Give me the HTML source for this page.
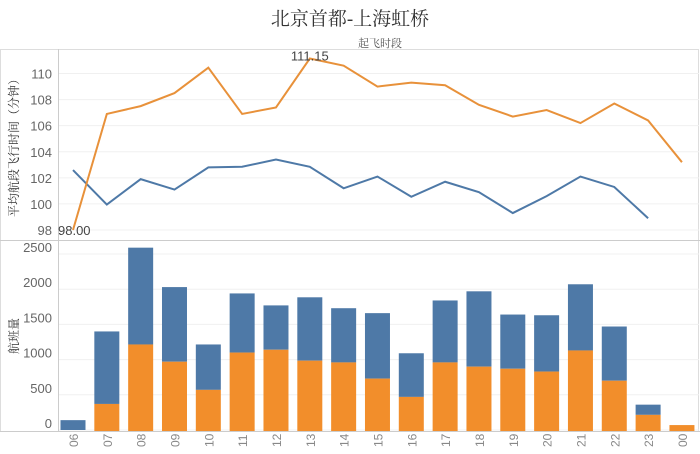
<!DOCTYPE html>
<html><head><meta charset="utf-8">
<style>
body{margin:0;background:#fff;width:700px;height:449px;overflow:hidden;font-family:"Liberation Sans","Noto Sans CJK SC",sans-serif;}
svg text{font-family:"Liberation Sans","Noto Sans CJK SC",sans-serif;}
svg text.serif{font-family:"Liberation Serif","Noto Serif CJK SC",serif;}
</style></head>
<body>
<svg id="chart" width="700" height="449" xmlns="http://www.w3.org/2000/svg">
<text class="serif" x="350" y="25" text-anchor="middle" font-size="19" fill="#333">北京首都-上海虹桥</text>
<text class="serif" x="380" y="47" text-anchor="middle" font-size="11" fill="#555">起飞时段</text>
<rect x="0.5" y="49.5" width="698" height="382" fill="none" stroke="#ddd"/>
<line x1="0" y1="240.5" x2="700" y2="240.5" stroke="#ccc"/>
<line x1="58.5" y1="49" x2="58.5" y2="432" stroke="#ccc"/>
<line x1="0" y1="431.5" x2="700" y2="431.5" stroke="#ccc"/>
<text class="serif" transform="translate(18,145) rotate(-90)" text-anchor="middle" font-size="12" fill="#333">平均航段飞行时间（分钟）</text>
<text class="serif" transform="translate(18,336) rotate(-90)" text-anchor="middle" font-size="12" fill="#333">航班量</text>
<g id="g"></g>
</svg>
<script>
const categories=["06","07","08","09","10","11","12","13","14","15","16","17","18","19","20","21","22","23","00"];
const orangeTime=[98.0,106.9,107.5,108.5,110.45,106.9,107.4,111.15,110.6,109.0,109.3,109.1,107.6,106.7,107.2,106.2,107.7,106.4,103.2];
const blueTime=[102.6,99.95,101.9,101.1,102.8,102.85,103.4,102.85,101.2,102.1,100.55,101.7,100.9,99.3,100.6,102.1,101.3,98.9,null];
const totalCount=[140,1400,2590,2030,1215,1940,1770,1885,1730,1660,1090,1840,1970,1640,1630,2070,1470,360,70];
const orangeCount=[0,370,1215,970,570,1100,1140,985,960,730,470,960,900,870,830,1130,700,215,70];
const timeTicks=[98,100,102,104,106,108,110];
const countTicks=[0,500,1000,1500,2000,2500];

const NS="http://www.w3.org/2000/svg";
const g=document.getElementById('g');
const xC=i=>73+i*33.83;
const yT=v=>230-(v-98)*13.04;
const yC=v=>430-v*0.0704;
function mk(t,a){const e=document.createElementNS(NS,t);for(const k in a)e.setAttribute(k,a[k]);g.appendChild(e);return e;}
timeTicks.forEach(v=>{
 const l=mk('line',{x1:59,x2:699,y1:yT(v),y2:yT(v),stroke:'#f0f0f0'});
 
 
 const t=mk('text',{x:52,y:yT(v)+5,'text-anchor':'end','font-size':13,fill:'#666'});t.textContent=v;
 
 
});
countTicks.forEach(v=>{
 const l=mk('line',{x1:59,x2:699,y1:yC(v),y2:yC(v),stroke:'#f0f0f0'});
 
 
 const t=mk('text',{x:52,y:yC(v)-2,'text-anchor':'end','font-size':13,fill:'#666'});t.textContent=v;
 
 
});
categories.forEach((c,i)=>{
 const x=xC(i),w=25;
 if(totalCount[i]>orangeCount[i]){
  const b=mk('rect',{x:x-w/2,y:yC(totalCount[i]),width:w,height:yC(orangeCount[i])-yC(totalCount[i]),fill:'#4e79a7'});
  
  
 }
 if(orangeCount[i]>0){
  const b=mk('rect',{x:x-w/2,y:yC(orangeCount[i]),width:w,height:430-yC(orangeCount[i])+1,fill:'#f28e2b'});
  
  
 }
 const t=mk('text',{transform:`translate(${x+5},447) rotate(-90)`,'font-size':12,fill:'#888'});t.textContent=c;
 
 
});
function line(arr,col,name){
 const pts=arr.map((v,i)=>v==null?null:xC(i)+','+yT(v)).filter(p=>p);
 const p=mk('polyline',{points:pts.join(' '),fill:'none',stroke:col,'stroke-width':2});
 
 
}
line(blueTime,'#4e79a7','line-blue');
line(orangeTime,'#e8913a','line-orange');
const mn=orangeTime.indexOf(Math.min(...orangeTime)),mx=orangeTime.indexOf(Math.max(...orangeTime));
let t=mk('text',{x:xC(mn)-15,y:yT(orangeTime[mn])+5,'font-size':13,fill:'#444'});t.textContent=orangeTime[mn].toFixed(2);


t=mk('text',{x:xC(mx),y:yT(orangeTime[mx])+2,'text-anchor':'middle','font-size':13,fill:'#444'});t.textContent=orangeTime[mx].toFixed(2);


</script>
</body></html>
